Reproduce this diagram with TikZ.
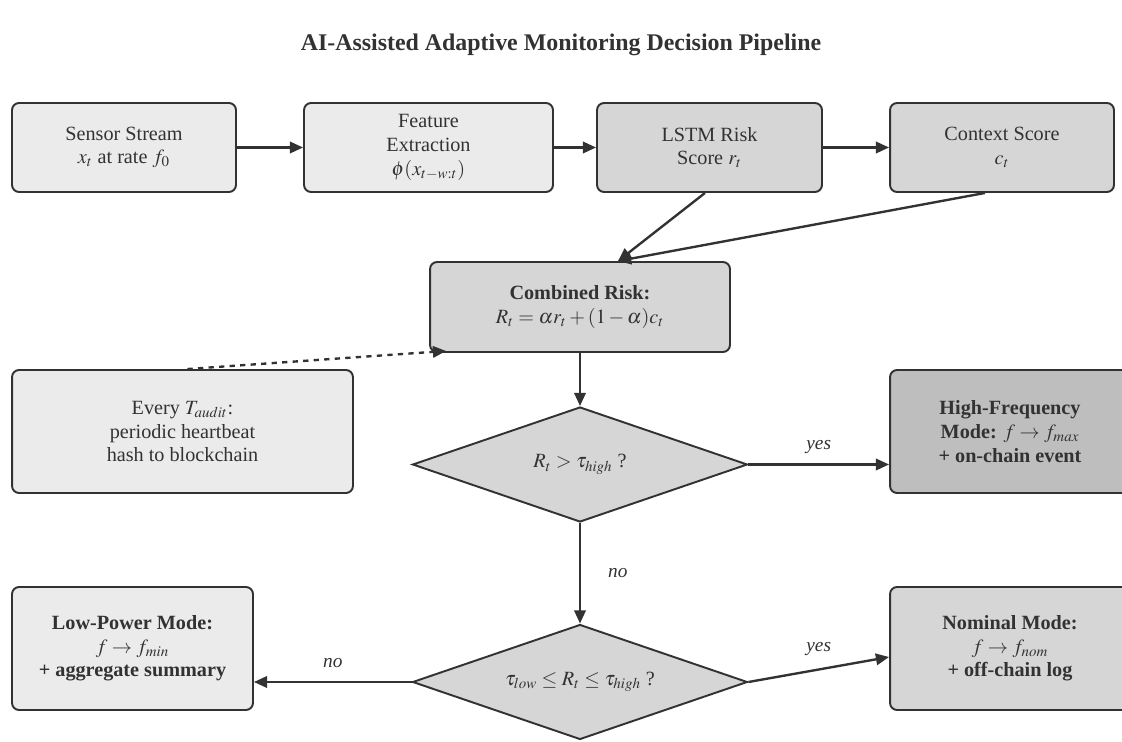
\documentclass[tikz,border=0pt]{standalone}
\usepackage{mathptmx}
\usepackage{fontspec}
\setmainfont{Liberation Serif}
\usepackage{xcolor}
\usetikzlibrary{positioning,shapes.geometric,arrows.meta}
\definecolor{boxlight}{RGB}{235,235,235}
\definecolor{boxmid}{RGB}{214,214,214}
\definecolor{boxdark}{RGB}{190,190,190}
\definecolor{inkgray}{RGB}{50,50,50}

\begin{document}
\begin{tikzpicture}[
  x=0.02cm, y=-0.02cm,
  every node/.style={font=\fontsize{11.5}{13.5}\selectfont, text=inkgray},
  stagebox/.style={draw=inkgray, line width=1.1pt, rounded corners=4pt, align=center, inner sep=2pt},
  testbox/.style={draw=inkgray, line width=1.1pt, diamond, aspect=2.9, inner sep=0pt, fill=boxmid,
    minimum width=6.7cm, minimum height=2.3cm, align=center},
  flow/.style={-{Triangle[length=7.5pt,width=6.5pt]}, line width=1.35pt, draw=inkgray},
  edgelabel/.style={font=\itshape\fontsize{11}{13}\selectfont}
]
\useasboundingbox (0,0) rectangle (1122,742);

\node[font=\bfseries\fontsize{13.6}{16}\selectfont] (title) at (561,45) {AI-Assisted Adaptive Monitoring Decision Pipeline};

% top row
\node[stagebox, fill=boxlight, minimum width=4.48cm, minimum height=1.78cm] (sensor) at (124,147.5)
  {Sensor Stream\\$x_t$ at rate $f_0$};
\node[stagebox, fill=boxlight, minimum width=4.98cm, minimum height=1.78cm] (feat) at (428.5,147.5)
  {Feature\\Extraction\\$\phi(x_{t-w:t})$};
\node[stagebox, fill=boxmid, minimum width=4.5cm, minimum height=1.78cm] (lstm) at (709.5,147.5)
  {LSTM Risk\\Score $r_t$};
\node[stagebox, fill=boxmid, minimum width=4.48cm, minimum height=1.78cm] (ctx) at (1002,147.5)
  {Context Score\\$c_t$};

% combined risk and audit
\node[stagebox, fill=boxmid, minimum width=6cm, minimum height=1.8cm] (comb) at (580,307)
  {\textbf{Combined Risk:}\\$R_t=\alpha r_t+(1-\alpha)c_t$};
\node[stagebox, fill=boxlight, minimum width=6.82cm, minimum height=2.46cm] (audit) at (182.5,431.5)
  {Every $T_{audit}$:\\periodic heartbeat\\hash to blockchain};

% decisions
\node[testbox] (high) at (580,464.5) {$R_t>\tau_{high}$ ?};
\node[testbox] (mid) at (580,682) {$\tau_{low}\leq R_t\leq\tau_{high}$ ?};

% modes
\node[stagebox, fill=boxdark, minimum width=4.8cm, minimum height=2.46cm] (hfmode) at (1010,431.5)
  {\textbf{High-Frequency}\\\textbf{Mode:} $f\rightarrow f_{max}$\\\textbf{+ on-chain event}};
\node[stagebox, fill=boxlight, minimum width=4.82cm, minimum height=2.46cm] (lpmode) at (132.5,648.5)
  {\textbf{Low-Power Mode:}\\$f\rightarrow f_{min}$\\\textbf{+ aggregate summary}};
\node[stagebox, fill=boxmid, minimum width=4.8cm, minimum height=2.46cm] (nmmode) at (1010,648.5)
  {\textbf{Nominal Mode:}\\$f\rightarrow f_{nom}$\\\textbf{+ off-chain log}};

\draw[flow] (sensor) -- (feat);
\draw[flow] (feat) -- (lstm);
\draw[flow] (lstm) -- (ctx);
\draw[flow] ([xshift=-0.09cm]lstm.south) -- ([xshift=0.76cm]comb.north);
\draw[flow] ([xshift=-0.34cm]ctx.south) -- ([xshift=0.76cm]comb.north);
\draw[flow, dashed] ([xshift=0.1cm]audit.north) -- ([xshift=0.34cm,yshift=0.04cm]comb.south west);
\draw[flow] (comb) -- (high);
\draw[flow] (high.east) -- node[edgelabel, above=2pt] {yes} (hfmode.west |- high.east);
\draw[flow] (high.south) -- node[edgelabel, right=12pt] {no} (mid.north);
\draw[flow] (mid.west) -- node[edgelabel, above=4pt] {no} (lpmode.east |- mid.west);
\draw[flow] (mid.east) -- node[edgelabel, above=4pt] {yes} ([yshift=-0.17cm]nmmode.west);
\end{tikzpicture}
\end{document}
